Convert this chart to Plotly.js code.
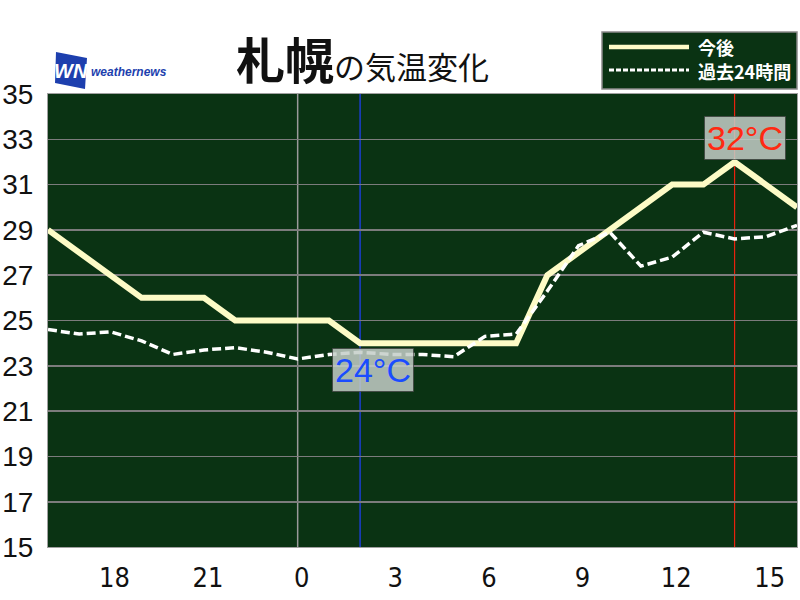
<!DOCTYPE html>
<html>
<head>
<meta charset="utf-8">
<script src="https://cdn.plot.ly/plotly-3.0.1.min.js"></script>
<style>html,body{margin:0;padding:0;background:#fff;}#chart{width:800px;height:600px;}</style>
</head>
<body>
<div id="chart"></div>
<script>
// ---- data ----
const hours = [-8,-7,-6,-5,-4,-3,-2,-1,0,1,2,3,4,5,6,7,8,9,10,11,12,13,14,15,16];
const forecastTemp = [29,28,27,26,26,26,25,25,25,25,24,24,24,24,24,24,27,28,29,30,31,31,32,31,30];
const past24Temp = [24.6,24.4,24.5,24.1,23.5,23.7,23.8,23.6,23.3,23.5,23.6,23.5,23.5,23.4,24.3,24.4,26.3,28.3,28.9,27.4,27.8,28.9,28.6,28.7,29.2];
const tickHours = [-6,-3,0,3,6,9,12,15];
const tickLabels = ['18','21','0','3','6','9','12','15'];
const seriesNames = ['今後','過去24時間'];
const cityName = '札幌';
const titleRest = 'の気温変化';

// ---- derived ----
const minT = Math.min(...forecastTemp), maxT = Math.max(...forecastTemp);
const minH = hours[forecastTemp.indexOf(minT)];
const maxH = hours[forecastTemp.indexOf(maxT)];

// ---- layout helpers (pixel -> paper) ----
const M = {l:48, r:3, t:94, b:53};
const PW = 800 - M.l - M.r, PH = 600 - M.t - M.b;
const px = x => (x - M.l) / PW;
const py = y => (600 - M.b - y) / PH;

const GREEN = '#0a3313';
const CREAM = '#fdfbc6';

const traces = [
  {x: hours, y: forecastTemp, type:'scatter', mode:'lines', name: seriesNames[0],
   line:{color:CREAM, width:6}, hoverinfo:'skip'},
  {x: hours, y: past24Temp, type:'scatter', mode:'lines', name: seriesNames[1],
   line:{color:'#ffffff', width:3.5, dash:'9px,4px'}, hoverinfo:'skip'}
];

const logoPath = 'M' + px(56) + ',' + py(52) + ' L' + px(87) + ',' + py(58) +
  ' L' + px(85) + ',' + py(89) + ' L' + px(55) + ',' + py(83) + ' Z';

const shapes = [
  {type:'line', xref:'x', yref:'paper', x0:0, x1:0, y0:0, y1:1, line:{color:'#9a9a9a', width:1.5}, layer:'below'},
  {type:'line', xref:'x', yref:'paper', x0:minH, x1:minH, y0:0, y1:1, line:{color:'#2040ff', width:1.2}, layer:'below'},
  {type:'line', xref:'x', yref:'paper', x0:maxH, x1:maxH, y0:0, y1:1, line:{color:'#e8220e', width:1.2}, layer:'below'},
  // legend box
  {type:'rect', xref:'paper', yref:'paper', x0:px(602), x1:px(797), y0:py(89), y1:py(32),
   fillcolor:GREEN, line:{color:'#8a8a8a', width:1.5}},
  {type:'line', xref:'paper', yref:'paper', x0:px(609), x1:px(689), y0:py(47), y1:py(47),
   line:{color:CREAM, width:4.5}},
  {type:'line', xref:'paper', yref:'paper', x0:px(609), x1:px(689), y0:py(70), y1:py(70),
   line:{color:'#ffffff', width:3, dash:'5px,2px'}},
  // logo
  {type:'path', xref:'paper', yref:'paper', path: logoPath, fillcolor:'#1d3fae', line:{width:0}}
];

const annotations = [
  {xref:'paper', yref:'paper', x:px(234), y:py(57), xanchor:'left', yanchor:'middle', showarrow:false,
   text:'<b>' + cityName + '</b><span style="font-size:31px">' + titleRest + '</span>',
   font:{family:'Noto Sans CJK JP', size:49, color:'#111'}},
  {xref:'paper', yref:'paper', x:px(71), y:py(71), xanchor:'center', yanchor:'middle', showarrow:false,
   text:'<b><i>WN</i></b>', font:{family:'Liberation Sans', size:20, color:'#ffffff'}},
  {xref:'paper', yref:'paper', x:px(89), y:py(72), xanchor:'left', yanchor:'middle', showarrow:false,
   text:'<b><i>weathernews</i></b>', font:{family:'Liberation Sans', size:12, color:'#1d3fae'}},
  {xref:'paper', yref:'paper', x:px(696), y:py(47), xanchor:'left', yanchor:'middle', showarrow:false,
   text:'<b>' + seriesNames[0] + '</b>', font:{family:'Noto Sans CJK JP', size:18, color:'#ffffff'}},
  {xref:'paper', yref:'paper', x:px(696), y:py(71), xanchor:'left', yanchor:'middle', showarrow:false,
   text:'<b>' + seriesNames[1] + '</b>', font:{family:'Noto Sans CJK JP', size:18, color:'#ffffff'}},
  {xref:'x', yref:'y', x:minH, y:minT, xanchor:'center', yanchor:'middle', xshift:13, yshift:-27, showarrow:false,
   text: minT + '°C', font:{family:'Liberation Sans', size:34, color:'#1a4cff'},
   bgcolor:'rgba(196,206,200,0.85)', bordercolor:'rgba(60,60,60,0.7)', borderwidth:1, borderpad:2},
  {xref:'x', yref:'y', x:maxH, y:maxT, xanchor:'center', yanchor:'middle', xshift:10, yshift:24, showarrow:false,
   text: maxT + '°C', font:{family:'Liberation Sans', size:34, color:'#ff2a12'},
   bgcolor:'rgba(196,206,200,0.85)', bordercolor:'rgba(60,60,60,0.7)', borderwidth:1, borderpad:2}
];

const layout = {
  width:800, height:600, margin:M,
  paper_bgcolor:'#ffffff', plot_bgcolor:GREEN,
  showlegend:false,
  xaxis:{range:[hours[0], hours[hours.length-1]], tickmode:'array', tickvals:tickHours, ticktext:tickLabels,
    showgrid:false, zeroline:false, showline:true, mirror:true, linecolor:'#a0a0a0', linewidth:1,
    ticks:'outside', ticklen:7, tickcolor:'rgba(0,0,0,0)', ticklabelshift:4,
    tickfont:{family:'DejaVu Sans Condensed, Liberation Sans, sans-serif', size:27, color:'#111'}},
  yaxis:{range:[15,35], dtick:2, tick0:15, gridcolor:'#7c7c7c', gridwidth:1.6, zeroline:false,
    showline:true, mirror:true, linecolor:'#a0a0a0', linewidth:1,
    ticks:'outside', ticklen:8, tickcolor:'rgba(0,0,0,0)',
    tickfont:{family:'Liberation Sans, Arial, sans-serif', size:28, color:'#111'}},
  shapes: shapes,
  annotations: annotations
};

Plotly.newPlot('chart', traces, layout, {staticPlot:true, displayModeBar:false});
</script>
</body>
</html>
